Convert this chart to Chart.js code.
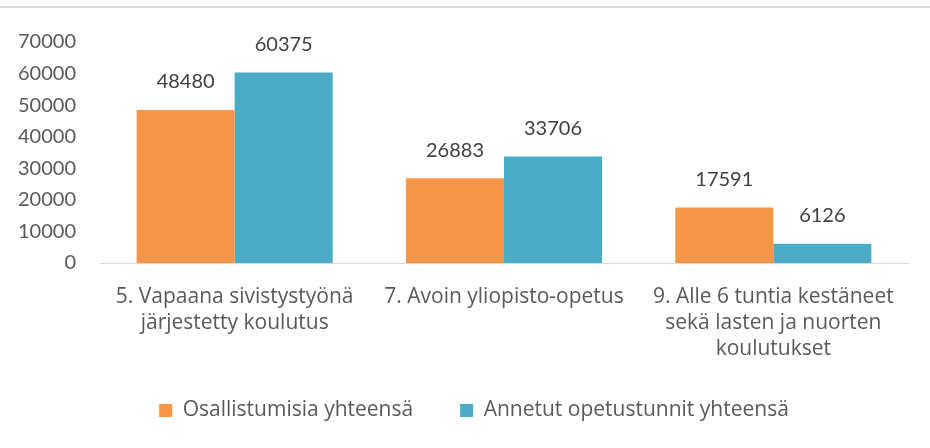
<!DOCTYPE html>
<html>
<head>
<meta charset="utf-8">
<script src="https://cdn.jsdelivr.net/npm/chart.js@4.4.0/dist/chart.umd.min.js"></script>
<style>
  html, body { margin: 0; padding: 0; background: #fff; overflow: hidden; }
  #wrap { position: relative; width: 930px; height: 448px; }
  #topline { position: absolute; left: 0; top: 6px; width: 930px; height: 2px; background: #d9d9d9; }
</style>
</head>
<body>
<div id="wrap">
  <div id="topline"></div>
  <canvas id="c" width="930" height="431"></canvas>
</div>
<script>
const categories = [
  ["5. Vapaana sivistystyönä", "järjestetty koulutus"],
  ["7. Avoin yliopisto-opetus"],
  ["9. Alle 6 tuntia kestäneet", "sekä lasten ja nuorten", "koulutukset"]
];
const seriesNames = ["Osallistumisia yhteensä", "Annetut opetustunnit yhteensä"];
const osallistumisia = [48480, 26883, 17591];
const opetustunnit = [60375, 33706, 6126];
const yTicks = [0, 10000, 20000, 30000, 40000, 50000, 60000, 70000];

const NUMFONT = "Lato, 'Open Sans', sans-serif";
const TXTFONT = "'Open Sans', Lato, sans-serif";

const dataLabels = {
  id: 'dataLabels',
  afterDatasetsDraw(chart) {
    const ctx = chart.ctx;
    ctx.save();
    ctx.font = "20px " + NUMFONT;
    ctx.fillStyle = '#404040';
    ctx.textAlign = 'center';
    ctx.textBaseline = 'middle';
    chart.data.datasets.forEach((ds, i) => {
      chart.getDatasetMeta(i).data.forEach((el, j) => {
        ctx.fillText(String(ds.data[j]), el.x, el.y - 28);
      });
    });
    ctx.restore();
  }
};

// widen the gap between legend items without changing the legend's vertical placement
const legendGap = {
  id: 'legendGap',
  afterLayout(chart) {
    const lg = chart.legend;
    if (!lg) return;
    try {
      const before = lg.options.labels.padding;
      lg.options.labels.padding = 47;
      const after = lg.options.labels.padding;
      if (after !== before) {
        const d = after - before;
        lg.top -= d;
        lg.left += 3;
        lg.right += 3;
      }
    } catch (e) {}
  }
};

new Chart(document.getElementById('c'), {
  type: 'bar',
  data: {
    labels: categories,
    datasets: [
      { label: seriesNames[0], data: osallistumisia, backgroundColor: '#F79646', borderWidth: 0 },
      { label: seriesNames[1], data: opetustunnit, backgroundColor: '#4BACC6', borderWidth: 0 }
    ]
  },
  options: {
    responsive: false,
    animation: false,
    devicePixelRatio: 1,
    layout: { padding: { top: 42, right: 22, left: 16, bottom: 0 } },
    datasets: { bar: { categoryPercentage: 0.728, barPercentage: 1.0 } },
    scales: {
      y: {
        min: 0, max: 70000,
        afterBuildTicks(scale) { scale.ticks = yTicks.map(v => ({ value: v })); },
        afterFit(scale) { scale.width = 84; },
        grid: { display: false, drawTicks: false },
        border: { display: false },
        ticks: { color: '#595959', font: { family: NUMFONT, size: 20 }, padding: 24, callback: v => String(v) }
      },
      x: {
        afterFit(scale) { scale.height = 99; },
        grid: { display: false, drawTicks: false },
        border: { display: true, color: '#d9d9d9', width: 1 },
        ticks: { color: '#595959', font: { family: TXTFONT, size: 21, lineHeight: 1.238 }, padding: 21, maxRotation: 0, autoSkip: false }
      }
    },
    plugins: {
      legend: {
        position: 'bottom',
        labels: {
          color: '#595959',
          font: { family: TXTFONT, size: 21 },
          boxWidth: 13, boxHeight: 13,
          padding: 38
        }
      },
      tooltip: { enabled: false }
    }
  },
  plugins: [dataLabels, legendGap]
});
</script>
</body>
</html>
